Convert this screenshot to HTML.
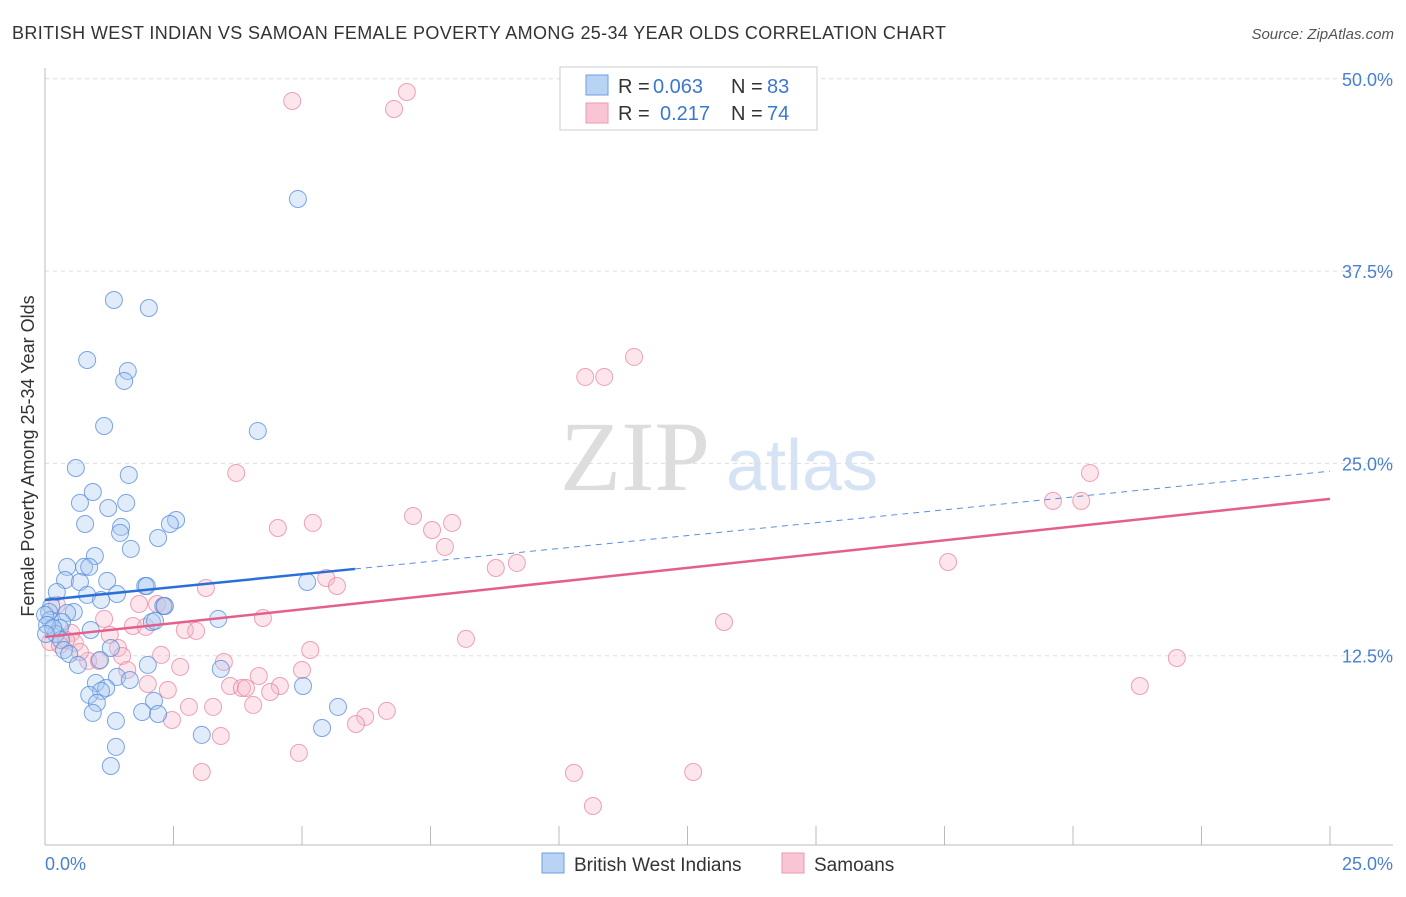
<!DOCTYPE html>
<html><head><meta charset="utf-8"><style>
body{margin:0;background:#fff;font-family:"Liberation Sans",sans-serif}
</style></head><body>
<svg id="c" width="1406" height="892" xmlns="http://www.w3.org/2000/svg">
<text x="12" y="39" font-size="18" fill="#333" textLength="934" lengthAdjust="spacing">BRITISH WEST INDIAN VS SAMOAN FEMALE POVERTY AMONG 25-34 YEAR OLDS CORRELATION CHART</text>
<text x="1394" y="39" font-size="15" fill="#555" font-style="italic" text-anchor="end">Source: ZipAtlas.com</text>
<g>
<text x="635" y="490" font-size="100" fill="#ddd" font-family="Liberation Serif,serif" text-anchor="middle">ZIP</text>
<text x="802" y="490" font-size="72" fill="#d5e3f5" text-anchor="middle">atlas</text>
</g>
<g id="grid"></g>
<g id="axes"></g>
<g id="pts"></g>
<g id="lines"></g>
<text transform="translate(34,456) rotate(-90)" font-size="18" fill="#333" text-anchor="middle">Female Poverty Among 25-34 Year Olds</text>
<text x="45" y="870" font-size="18" fill="#4a80d0">0.0%</text>
<text x="1393" y="870" font-size="18" fill="#4a80d0" text-anchor="end">25.0%</text>
<g>
<rect x="560" y="67" width="257" height="63" fill="#fff" stroke="#ccc"/>
<rect x="586" y="75" width="22" height="20" fill="#b9d3f5" stroke="#6d9de0"/>
<rect x="586" y="103" width="22" height="20" fill="#f9c5d4" stroke="#e99ab2"/>
<text x="618" y="93" font-size="20" fill="#333">R =</text>
<text x="653" y="93" font-size="20" fill="#3a78d0">0.063</text>
<text x="731" y="93" font-size="20" fill="#333">N =</text>
<text x="767" y="93" font-size="20" fill="#3a78d0">83</text>
<text x="618" y="120" font-size="20" fill="#333">R =</text>
<text x="660" y="120" font-size="20" fill="#3a78d0">0.217</text>
<text x="731" y="120" font-size="20" fill="#333">N =</text>
<text x="767" y="120" font-size="20" fill="#3a78d0">74</text>
</g>
<g>
<rect x="542" y="853" width="22" height="20" fill="#b9d3f5" stroke="#6d9de0"/>
<text x="574" y="871" font-size="19" fill="#333">British West Indians</text>
<rect x="782" y="853" width="22" height="20" fill="#f9c5d4" stroke="#e99ab2"/>
<text x="814" y="871" font-size="19" fill="#333">Samoans</text>
</g>
</svg>
<script>
const yTicks=[12.5,25,37.5,50];
const xTickVals=[0,2.5,5,7.5,10,12.5,15,17.5,20,22.5,25];
const blueX=[1.34,2.02,4.92,0.82,1.61,1.54,1.15,4.14,0.60,1.63,0.93,0.68,1.58,1.23,0.78,1.48,1.46,2.55,2.43,2.20,1.67,0.97,0.43,0.76,0.86,0.39,0.68,1.21,1.95,1.98,0.23,0.82,1.40,1.09,2.30,2.33,0.12,0.56,0.43,0.08,0.10,0.33,3.37,2.08,2.14,0.89,0.29,0.21,0.31,1.28,0.37,0.47,1.07,2.00,0.64,3.42,1.40,1.65,0.99,5.02,1.19,1.09,0.86,2.12,1.01,0.93,1.89,2.20,5.70,1.38,5.39,3.05,1.38,1.28,5.10,0.00,0.04,0.16,0.02];
const blueY=[35.62,35.1,42.19,31.72,31.01,30.36,27.43,27.11,24.70,24.25,23.14,22.43,22.43,22.10,21.06,20.87,20.48,21.32,21.06,20.15,19.44,18.98,18.27,18.27,18.27,17.42,17.29,17.36,17.03,17.03,16.64,16.45,16.51,16.12,15.73,15.73,15.73,15.34,15.28,15.34,14.82,14.69,14.89,14.69,14.76,14.17,14.30,13.91,13.52,13.00,12.87,12.61,12.22,11.90,11.90,11.64,11.12,10.92,10.73,10.53,10.40,10.21,9.95,9.56,9.43,8.78,8.84,8.71,9.17,8.26,7.80,7.35,6.57,5.33,17.29,15.15,14.50,14.30,13.91];
const pinkX=[4.81,7.04,6.79,11.46,10.51,10.88,3.72,20.33,19.61,20.16,7.16,5.21,7.92,4.53,7.53,7.78,9.18,8.77,17.57,5.47,5.68,3.13,0.23,1.83,2.18,2.33,4.24,13.21,1.15,2.72,2.94,1.71,1.96,8.19,0.51,1.26,0.10,0.29,0.58,1.42,5.16,2.26,1.50,0.84,1.05,22.02,3.48,2.63,5.00,1.60,4.16,3.60,2.00,4.57,21.30,3.83,3.91,4.38,2.39,4.05,2.80,3.27,6.65,6.23,6.05,2.47,3.42,4.94,3.05,10.29,12.61,10.66,0.41,0.68];
const pinkY=[48.56,49.14,48.04,31.92,30.62,30.62,24.38,24.38,22.56,22.56,21.58,21.13,21.13,20.80,20.67,19.57,18.53,18.20,18.59,17.55,17.03,16.90,15.80,15.86,15.86,15.73,14.95,14.69,14.89,14.17,14.11,14.43,14.37,13.59,13.98,13.85,13.39,13.20,13.33,13.00,12.87,12.55,12.48,12.16,12.16,12.35,12.09,11.77,11.57,11.57,11.18,10.53,10.66,10.53,10.53,10.40,10.40,10.14,10.27,9.30,9.17,9.17,8.91,8.52,8.06,8.32,7.28,6.18,4.94,4.88,4.94,2.73,13.52,12.74];
const blueTrend=[16.12,0.335];
const pinkTrend=[13.72,0.359];
const NS="http://www.w3.org/2000/svg";
const xs=v=>45+v*51.4, ys=v=>848-v*15.384;
function mk(t,a,p){const e=document.createElementNS(NS,t);for(const k in a)e.setAttribute(k,a[k]);document.getElementById(p).appendChild(e);return e;}
yTicks.forEach(t=>{
 const l=mk('line',{x1:45,x2:1393,y1:ys(t),y2:ys(t),stroke:'#ddd','stroke-dasharray':'4,4'},'grid');
 
 
 const tx=mk('text',{x:1393,y:ys(t)+7,'font-size':18,fill:'#4a80d0','text-anchor':'end'},'grid');
 tx.textContent=t.toFixed(1)+'%';
 
 
});
mk('line',{x1:45,x2:45,y1:68,y2:845,stroke:'#bbb'},'axes');
mk('line',{x1:45,x2:1393,y1:845,y2:845,stroke:'#bbb'},'axes');
xTickVals.forEach(t=>{
 const l=mk('line',{x1:xs(t),x2:xs(t),y1:826,y2:845,stroke:'#bbb'},'axes');
 
 
});
function pts(X,Y,f,s,n){X.forEach((x,i)=>{
 const c=mk('circle',{cx:xs(x),cy:ys(Y[i]),r:8.5,fill:f,'fill-opacity':0.35,stroke:s,'stroke-opacity':0.8,'stroke-width':1},'pts');
 
 
});}
pts(pinkX,pinkY,'#f6b6c8','#e88aa6','samoan-point');
pts(blueX,blueY,'#a9c8f0','#5b8fdc','bwi-point');
const bx=6.03;
let l1=mk('line',{x1:xs(0),y1:ys(blueTrend[0]),x2:xs(bx),y2:ys(blueTrend[0]+blueTrend[1]*bx),stroke:'#2a6fd6','stroke-width':2.5},'lines');


let l2=mk('line',{x1:xs(bx),y1:ys(blueTrend[0]+blueTrend[1]*bx),x2:xs(25),y2:ys(blueTrend[0]+blueTrend[1]*25),stroke:'#5b8fdc','stroke-width':1,'stroke-dasharray':'6,5'},'lines');


let l3=mk('line',{x1:xs(0),y1:ys(pinkTrend[0]),x2:xs(25),y2:ys(pinkTrend[0]+pinkTrend[1]*25),stroke:'#e4608c','stroke-width':2.5},'lines');


</script>
</body></html>
